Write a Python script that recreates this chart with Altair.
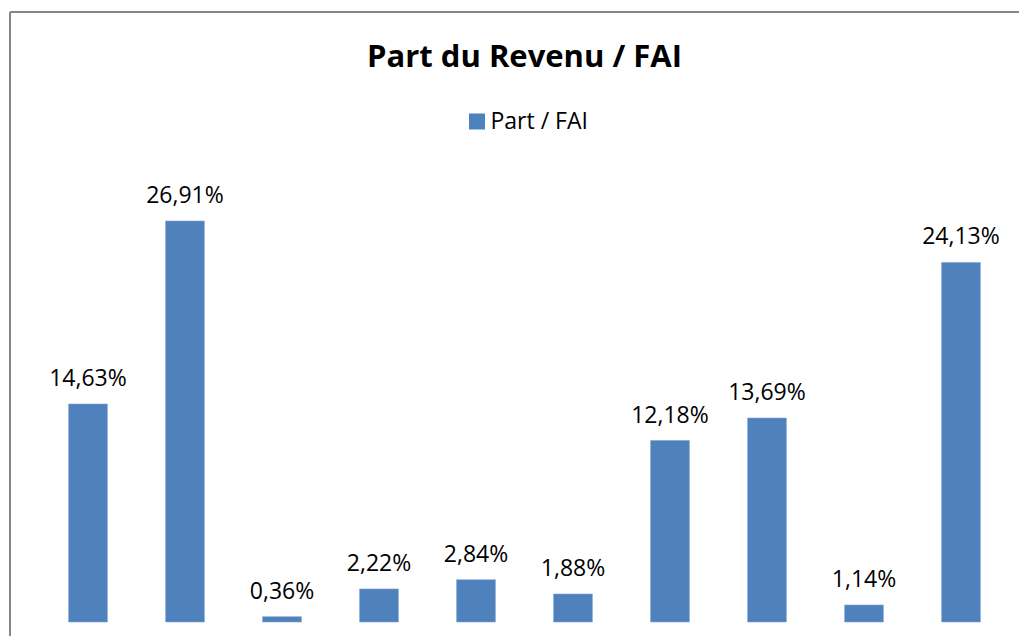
import altair as alt
import pandas as pd

categories = ["C1", "C2", "C3", "C4", "C5", "C6", "C7", "C8", "C9", "C10"]
values = [14.63, 26.91, 0.36, 2.22, 2.84, 1.88, 12.18, 13.69, 1.14, 24.13]
series = ["Part / FAI"] * len(categories)

df = pd.DataFrame({"cat": categories, "v": values, "series": series})

W, H = 970, 447
FONT = "Open Sans"
BLUE = "#4F81BD"

base = alt.Chart(df).transform_calculate(
    lab="replace(format(datum.v, '.2f'), '.', ',') + '%'"
)

x = alt.X("cat:N", sort=categories, axis=None,
          scale=alt.Scale(paddingInner=0.6, paddingOuter=0.3))
y = alt.Y("v:Q", axis=None, scale=alt.Scale(domain=[0, 30], nice=False, zero=True))

bars = base.mark_bar(stroke="#7FA3D1", strokeWidth=0.6).encode(
    x=x, y=y,
    color=alt.Color("series:N", scale=alt.Scale(range=[BLUE]),
                    legend=alt.Legend(title=None, orient="none", legendX=426, legendY=-65,
                                      symbolType="square", symbolSize=256,
                                      symbolStrokeWidth=0,
                                      labelFont=FONT, labelFontSize=23, labelColor="#000000",
                                      padding=0, labelOffset=2))
)

labels = base.mark_text(baseline="alphabetic", dy=-18, fontSize=23, font=FONT, color="#000000").encode(
    x=x, y=y, text="lab:N"
)

left_border = alt.Chart(df).mark_rule(color="#868686", strokeWidth=2).encode(
    x=alt.value(-29.5), y=alt.value(-163), y2=alt.value(H + 14)
)
top_border = alt.Chart(df).mark_rule(color="#868686", strokeWidth=2).encode(
    x=alt.value(-29.5), x2=alt.value(W + 10), y=alt.value(-163)
)

chart = alt.layer(bars, labels, left_border, top_border).properties(
    width=W, height=H,
    autosize=alt.AutoSizeParams(type="none"),
    padding={"left": 31.5, "top": 167, "right": 9.5, "bottom": 14},
    title=alt.TitleParams("Part du Revenu / FAI", font=FONT, fontSize=31, fontWeight="bold",
                          color="#000000", anchor="middle", offset=-63),
).configure_view(stroke=None)

chart.save("out.html", embed_options={"renderer": "svg", "actions": False})
